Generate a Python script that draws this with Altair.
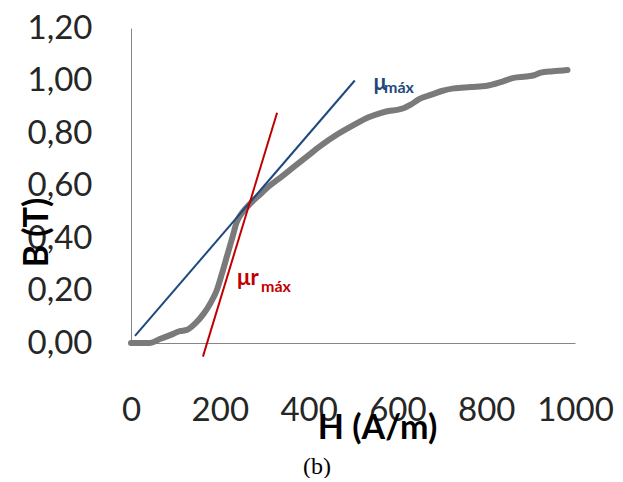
import altair as alt
import pandas as pd

# Magnetization curve B(H)
H_vals = [0, 20, 43, 65, 88, 110, 126, 145, 163, 180, 193, 205, 216, 228, 238, 252, 268, 290, 313, 340, 366, 396, 426, 465, 501, 535, 562, 580, 599, 615, 629, 650, 675, 700, 727, 765, 802, 835, 862, 890, 908, 923, 950, 983]
B_vals = [0.0, 0.0, 0.0, 0.015, 0.03, 0.045, 0.05, 0.075, 0.11, 0.155, 0.20, 0.265, 0.33, 0.40, 0.46, 0.50, 0.53, 0.565, 0.60, 0.635, 0.67, 0.71, 0.75, 0.795, 0.83, 0.86, 0.876, 0.884, 0.888, 0.895, 0.907, 0.93, 0.945, 0.96, 0.97, 0.975, 0.98, 0.995, 1.01, 1.015, 1.02, 1.03, 1.035, 1.04]

# Tangent lines
mu_H = [9, 504]
mu_B = [0.027, 1.00]
mur_H = [162, 329]
mur_B = [-0.052, 0.877]

# Annotations
ann_main = ["μ", "μr"]
ann_H = [546, 239]
ann_B = [0.964, 0.221]
ann_sub = ["máx", "máx"]
sub_H = [570, 293]
sub_B = [0.952, 0.194]
ann_color = ["#1F497D", "#C00000"]

x_ticks = [0, 200, 400, 600, 800, 1000]
y_ticks = [0.0, 0.2, 0.4, 0.6, 0.8, 1.0, 1.2]

curve_df = pd.DataFrame({"H": H_vals, "B": B_vals, "i": range(len(H_vals))})
mu_df = pd.DataFrame({"H": mu_H, "B": mu_B})
mur_df = pd.DataFrame({"H": mur_H, "B": mur_B})
main_df = pd.DataFrame({"H": ann_H, "B": ann_B, "t": ann_main, "c": ann_color})
sub_df = pd.DataFrame({"H": sub_H, "B": sub_B, "t": ann_sub, "c": ann_color})

x_enc = alt.X(
    "H:Q",
    scale=alt.Scale(domain=[0, 1000], nice=False, zero=False),
    axis=alt.Axis(
        values=x_ticks, format="d", labelFlush=False, labelBaseline="alphabetic", labelPadding=77,
        title="H (A/m)", titleX=246, titleY=95, titleBaseline="alphabetic",
        titleAlign="center", titleAnchor="middle",
    ),
)
y_enc = alt.Y(
    "B:Q",
    scale=alt.Scale(domain=[0, 1.2], nice=False, zero=False),
    axis=alt.Axis(
        values=y_ticks, labelExpr="replace(format(datum.value, '.2f'), '.', ',')",
        labelPadding=39, title="B (T)", titleX=-84, titleY=204, titleAngle=-90,
        titleBaseline="alphabetic", titleAlign="center", titleAnchor="middle",
    ),
)

curve = alt.Chart(curve_df).mark_line(
    color="#7a7a7a", strokeWidth=6, interpolate="monotone", strokeCap="round"
).encode(x=x_enc, y=y_enc, order="i:Q")

mu_line = alt.Chart(mu_df).mark_line(color="#1F497D", strokeWidth=2).encode(x=x_enc, y=y_enc)
mur_line = alt.Chart(mur_df).mark_line(color="#C00000", strokeWidth=2).encode(x=x_enc, y=y_enc)

main_txt = alt.Chart(main_df).mark_text(
    font="Lato", fontSize=22, fontWeight="bold", align="left", baseline="alphabetic"
).encode(x=x_enc, y=y_enc, text="t:N", color=alt.Color("c:N", scale=None))

sub_txt = alt.Chart(sub_df).mark_text(
    font="Lato", fontSize=16, fontWeight="bold", align="left", baseline="alphabetic"
).encode(x=x_enc, y=y_enc, text="t:N", color=alt.Color("c:N", scale=None))

chart = alt.layer(curve, mu_line, mur_line, main_txt, sub_txt).properties(
    width=444,
    height=315,
    padding={"left": 123, "top": 20, "right": 40, "bottom": 135},
    autosize=alt.AutoSizeParams(type="none"),
    title=alt.TitleParams(
        "(b)", orient="bottom", font="Liberation Serif", fontSize=24,
        fontWeight="normal", color="black", anchor="middle", dx=-36, offset=10,
    ),
).configure_view(stroke=None).configure_axis(
    grid=False, ticks=False, tickSize=0, domainColor="#868686", domainWidth=1,
    labelFont="Lato", labelFontSize=33, labelColor="#262626",
    titleFont="Lato", titleFontSize=34, titleFontWeight="bold", titleColor="black",
)

chart.save("out.html", embed_options={"renderer": "svg", "actions": False})
